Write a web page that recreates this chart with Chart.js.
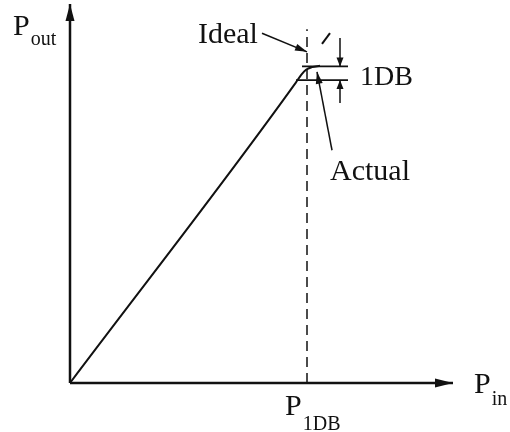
<!DOCTYPE html>
<html>
<head>
<meta charset="utf-8">
<script src="https://cdn.jsdelivr.net/npm/chart.js@4.4.1/dist/chart.umd.min.js"></script>
<style>
  html, body { margin: 0; padding: 0; background: #fff; }
  #c { display: block; background: #fff; }
</style>
</head>
<body>
<canvas id="c" width="510" height="432"></canvas>
<script>
// ===== Data (schematic units: Pin on x, Pout on y, ideal gain = 1) =====
const pinAxis      = [{ x: 0, y: 0 }, { x: 38.3, y: 0 }];
const poutAxis     = [{ x: 0, y: 0 }, { x: 0, y: 28.5 }];
const actualCurve  = [
  { x: 0, y: 0 }, { x: 22.6, y: 22.6 }, { x: 23.1, y: 23.15 },
  { x: 23.6, y: 23.55 }, { x: 24.2, y: 23.75 }, { x: 25.0, y: 23.85 }
];
const idealExtension = [{ x: 25.2, y: 25.5 }, { x: 26.0, y: 26.3 }];
const p1dbMarker     = [{ x: 23.7, y: 0 }, { x: 23.7, y: 26.6 }];
const idealLevel     = [{ x: 23.2, y: 23.8 }, { x: 27.8, y: 23.8 }];
const actualLevel    = [{ x: 22.6, y: 22.78 }, { x: 27.8, y: 22.78 }];
const dropArrowTop   = [{ x: 27.0, y: 25.94 }, { x: 27.0, y: 23.8 }];
const dropArrowBot   = [{ x: 27.0, y: 21.05 }, { x: 27.0, y: 22.78 }];
const idealPointer   = [{ x: 19.2, y: 26.3 }, { x: 23.7, y: 24.9 }];
const actualPointer  = [{ x: 26.2, y: 17.5 }, { x: 24.7, y: 23.4 }];

// label texts and anchors (data units)
const labels = [
  { text: 'P', sub: 'out', x: -5.7, y: 26.17, subDy: 10 },
  { text: 'Ideal', x: 12.8, y: 25.56 },
  { text: '1DB', x: 29.0, y: 22.4, size: 28 },
  { text: 'Actual', x: 26.0, y: 15.26 },
  { text: 'P', sub: 'in', x: 40.4, y: -0.75, subDy: 12 },
  { text: 'P', sub: '1DB', x: 21.5, y: -2.41, subDy: 15 }
];

const INK = '#111';

function seg(data, extra) {
  return Object.assign({
    data,
    borderColor: INK,
    borderWidth: 1.5,
    pointRadius: 0,
    fill: false,
    tension: 0
  }, extra || {});
}

// draws a filled arrowhead at the last point of datasets that have `arrow`
const arrowHeads = {
  id: 'arrowHeads',
  afterDatasetsDraw(chart) {
    const ctx = chart.ctx;
    chart.data.datasets.forEach((ds, i) => {
      if (!ds.arrow) return;
      const pts = chart.getDatasetMeta(i).data;
      const a = pts[pts.length - 2], b = pts[pts.length - 1];
      const ang = Math.atan2(b.y - a.y, b.x - a.x);
      const { len, width } = ds.arrow;
      ctx.save();
      ctx.translate(b.x, b.y);
      ctx.rotate(ang);
      ctx.beginPath();
      ctx.moveTo(0, 0);
      ctx.lineTo(-len, -width / 2);
      ctx.lineTo(-len, width / 2);
      ctx.closePath();
      ctx.fillStyle = INK;
      ctx.fill();
      ctx.restore();
    });
  }
};

const textLabels = {
  id: 'textLabels',
  afterDatasetsDraw(chart) {
    const ctx = chart.ctx;
    const sx = chart.scales.x, sy = chart.scales.y;
    ctx.save();
    ctx.fillStyle = INK;
    ctx.textBaseline = 'alphabetic';
    ctx.textAlign = 'left';
    for (const l of labels) {
      const px = sx.getPixelForValue(l.x);
      const py = sy.getPixelForValue(l.y);
      ctx.font = (l.size || 30) + 'px "Liberation Serif", "DejaVu Serif", serif';
      ctx.fillText(l.text, px, py);
      if (l.sub) {
        const w = ctx.measureText(l.text).width;
        ctx.font = '20px "Liberation Serif", "DejaVu Serif", serif';
        ctx.fillText(l.sub, px + w + 1, py + l.subDy);
      }
    }
    ctx.restore();
  }
};

new Chart(document.getElementById('c'), {
  type: 'line',
  data: {
    datasets: [
      seg(pinAxis,  { borderWidth: 2.5, arrow: { len: 18, width: 9 } }),
      seg(poutAxis, { borderWidth: 2.5, arrow: { len: 17, width: 9 } }),
      seg(p1dbMarker, { borderDash: [10, 6] }),
      seg(idealExtension, { borderWidth: 2 }),
      seg(actualCurve, { borderWidth: 2, cubicInterpolationMode: 'monotone' }),
      seg(idealLevel, { borderWidth: 1.8 }),
      seg(actualLevel, { borderWidth: 1.8 }),
      seg(dropArrowTop, { arrow: { len: 9, width: 7 } }),
      seg(dropArrowBot, { arrow: { len: 9, width: 7 } }),
      seg(idealPointer, { arrow: { len: 12, width: 7 } }),
      seg(actualPointer, { arrow: { len: 12, width: 7 } })
    ]
  },
  options: {
    responsive: false,
    animation: false,
    parsing: true,
    layout: { padding: 0 },
    scales: {
      x: { type: 'linear', display: false, min: -7, max: 44 },
      y: { type: 'linear', display: false, min: -49 / 13.3, max: 383 / 13.3 }
    },
    plugins: {
      legend: { display: false },
      tooltip: { enabled: false }
    }
  },
  plugins: [arrowHeads, textLabels]
});
</script>
</body>
</html>
